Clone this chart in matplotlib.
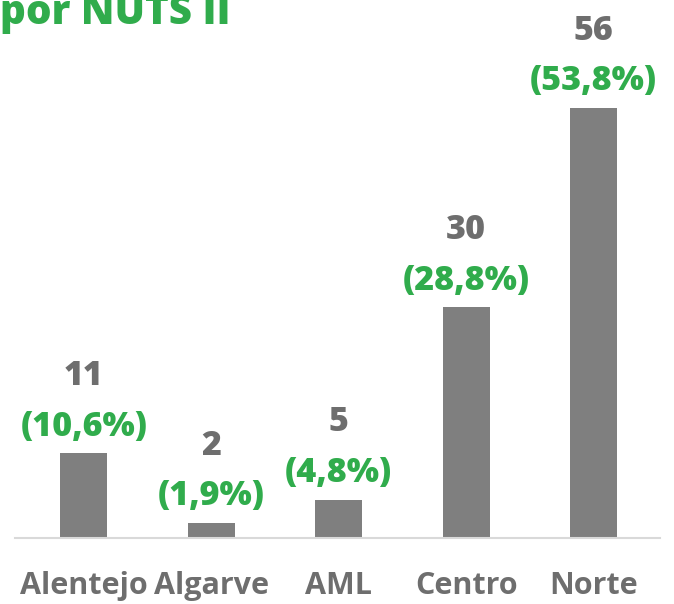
import matplotlib.pyplot as plt

regioes = ['Alentejo', 'Algarve', 'AML', 'Centro', 'Norte']
contagens = [11, 2, 5, 30, 56]
percentagens = ['(10,6%)', '(1,9%)', '(4,8%)', '(28,8%)', '(53,8%)']

cinza = '#7f7f7f'
cinza_txt = '#6e6e6e'
verde = '#30ac4c'

plt.rcParams['font.family'] = ['Open Sans', 'DejaVu Sans']

fig = plt.figure(figsize=(6.74, 6.04), dpi=100)
ax = fig.add_axes([15 / 674, 66 / 604, 645 / 674, 538 / 604])

x = range(len(regioes))
ax.bar(x, contagens, width=0.37, color=cinza)

for i, (c, p) in enumerate(zip(contagens, percentagens)):
    ax.annotate(p, (i, c), xytext=(0, 19), textcoords='offset points',
                ha='center', va='center', fontsize=24.5, fontweight=800, color=verde)
    ax.annotate(str(c), (i, c), xytext=(0, 55.5), textcoords='offset points',
                ha='center', va='center', fontsize=24.5, fontweight=800, color=cinza_txt)

ax.set_xlim(-0.54, 4.52)
ax.set_ylim(0, 70)
ax.set_xticks(list(x))
ax.set_xticklabels(regioes, fontsize=22, fontweight='bold', color=cinza_txt)
ax.tick_params(axis='x', length=0, pad=24)
ax.set_yticks([])
for lado in ['top', 'left', 'right']:
    ax.spines[lado].set_visible(False)
ax.spines['bottom'].set_color('#d9d9d9')
ax.spines['bottom'].set_linewidth(1.5)

fig.text(0, 1 - 24 / 604, 'por NUTS II', ha='left', va='baseline', fontsize=29,
         fontweight=800, color=verde)

fig.savefig('out.png', dpi=100)
